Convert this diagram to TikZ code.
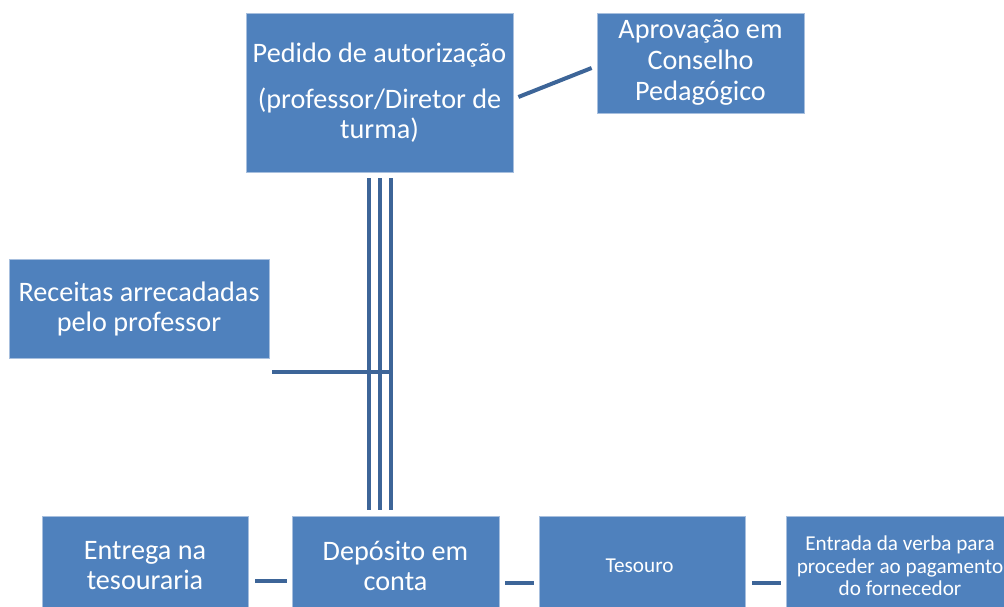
\documentclass[tikz,border=0pt]{standalone}
\usepackage{fontspec}
\setmainfont{Carlito}
\usetikzlibrary{calc}
\definecolor{boxblue}{RGB}{79, 129, 189}
\definecolor{linkblue}{RGB}{61, 101, 152}
\definecolor{edgeblue}{RGB}{167, 191, 222}

\begin{document}
\begin{tikzpicture}[
        x=1pt, y=1pt,
        block/.style={draw=edgeblue, line width=0.8pt, fill=boxblue, text=white, align=center, inner sep=0pt, font=\fontsize{28.2}{30}\selectfont},
        small/.style={font=\fontsize{21.2}{22.5}\selectfont},
        link/.style={draw=linkblue, line width=4pt}
    ]
        % Frame
        \useasboundingbox (0, 0) rectangle (1004, 606);
        \clip (0, 0) rectangle (1004, 606);

        % Request and approval
        \node[block, minimum width=267pt, minimum height=159pt] (ped) at (379.5, 513.5) {
            Pedido de autorização\\[16pt]
            (professor/Diretor de\\
            turma)
        };
        \node[block, minimum width=207pt, minimum height=100pt, font=\fontsize{28.2}{31}\selectfont] (apr) at (700.5, 543) {
            Aprovação em\\
            Conselho\\
            Pedagógico
        };

        % Revenue
        \node[block, minimum width=260pt, minimum height=99pt] (rec) at (139, 297.5) {
            Receitas arrecadadas\\
            pelo professor
        };

        % Bottom row
        \node[block, minimum width=206pt, minimum height=100pt] (ent) at (145, 40) {
            Entrega na\\
            tesouraria
        };
        \node[block, minimum width=207pt, minimum height=100pt] (dep) at (395.5, 40) {
            Depósito em\\
            conta
        };
        \node[block, small, minimum width=206pt, minimum height=100pt] (tes) at (642, 40) {
            Tesouro
        };
        \node[block, small, minimum width=228pt, minimum height=100pt] (forn) at (900, 40) {
            Entrada da verba para\\
            proceder ao pagamento\\
            do fornecedor
        };

        % Links
        \draw[link] ($(ped.east)+(5, -4.5)$) -- ($(apr.west)+(-5, -5)$);

        \foreach \dx in {-10.5, 0.5, 11.5}
            \draw[link] ($(ped.south)+(\dx, -6)$) -- ($(ped.south |- dep.north)+(\dx, 6)$);

        \draw[link] ($(rec.south east)+(3, -14)$) -- ++(121, 0);

        \draw[link] ($(ent.east)+(7, -15)$) -- ($(dep.west)+(-5, -15)$);
        \draw[link] ($(dep.east)+(6, -17)$) -- ($(tes.west)+(-5, -17)$);
        \draw[link] ($(tes.east)+(7, -17)$) -- ($(forn.west)+(-5, -17)$);
    \end{tikzpicture}
\end{document}
